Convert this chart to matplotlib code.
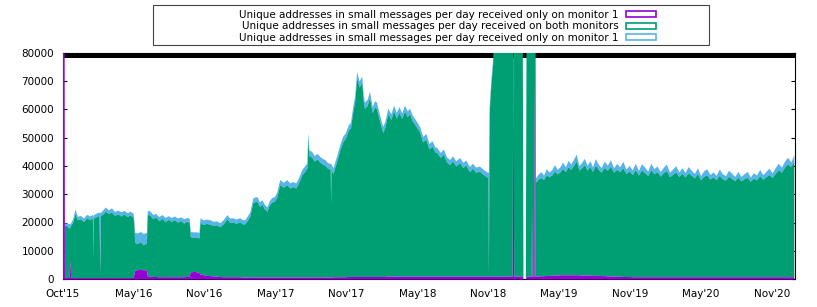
import numpy as np
import matplotlib
matplotlib.use('Agg')
import matplotlib.pyplot as plt
from matplotlib.patches import Patch, Rectangle

# days since the first sample (Oct'15)
day = [
  0, 4, 5, 10, 17, 19, 21, 26, 32, 38, 46, 54, 62, 70, 77, 78, 79, 86, 94, 96, 98,
  104, 110, 118, 126, 134, 142, 150, 158, 166, 174, 182, 186, 192, 200, 208, 216, 218, 224, 232, 240,
  248, 256, 264, 272, 280, 288, 296, 304, 312, 320, 326, 329, 336, 344, 351, 354, 362, 370, 379, 388,
  396, 405, 414, 423, 430, 438, 446, 456, 463, 469, 476, 482, 490, 500, 507, 513, 520, 526, 532, 538,
  545, 551, 559, 568, 577, 585, 592, 600, 605, 611, 616, 624, 629, 631, 634, 641, 648, 655, 662, 669,
  676, 682, 689, 690, 691, 696, 700, 707, 714, 721, 728, 735, 741, 747, 752, 757, 763, 770, 774, 777,
  784, 790, 797, 803, 808, 816, 824, 830, 837, 845, 852, 859, 866, 873, 880, 887, 893, 900, 911, 919,
  927, 935, 943, 951, 958, 963, 972, 980, 988, 996, 1004, 1012, 1022, 1030, 1038, 1047, 1055, 1063, 1073, 1081,
  1091, 1095, 1096, 1098, 1101, 1104, 1107, 1109, 1157, 1159, 1161, 1183, 1185, 1191, 1193, 1206, 1207, 1208, 1213, 1214,
  1216, 1217, 1224, 1231, 1238, 1245, 1252, 1259, 1266, 1273, 1280, 1287, 1294, 1301, 1308, 1315, 1322, 1329, 1336, 1343,
  1350, 1357, 1364, 1371, 1378, 1386, 1394, 1402, 1410, 1418, 1426, 1434, 1442, 1450, 1458, 1466, 1474, 1482, 1490, 1498,
  1506, 1514, 1522, 1530, 1538, 1546, 1554, 1562, 1570, 1578, 1586, 1594, 1602, 1610, 1618, 1626, 1634, 1642, 1650, 1658,
  1666, 1674, 1682, 1690, 1698, 1706, 1714, 1722, 1730, 1738, 1746, 1754, 1762, 1770, 1778, 1786, 1794, 1802, 1810, 1818,
  1826, 1834, 1842, 1850, 1858, 1866, 1874, 1882,
]

only_m1 = [
  95000, 95000, 700, 500, 600, 6500, 600, 500, 500, 500, 500, 500, 500, 500, 500, 500, 500, 500, 500, 500, 500,
  500, 500, 500, 500, 500, 500, 500, 500, 500, 500, 600, 3200, 3300, 3400, 3300, 3200, 1200, 1000, 900, 900,
  800, 800, 800, 800, 800, 800, 800, 800, 800, 900, 1000, 2500, 2700, 2600, 2300, 1800, 1500, 1300, 1200, 1100,
  1000, 900, 800, 800, 800, 800, 800, 800, 700, 700, 700, 700, 700, 700, 700, 700, 700, 700, 700, 700,
  700, 700, 700, 700, 700, 700, 700, 700, 700, 700, 700, 700, 700, 700, 700, 700, 700, 700, 700, 700,
  700, 700, 700, 700, 700, 800, 800, 800, 800, 800, 800, 900, 900, 900, 900, 900, 900, 900, 900, 900,
  900, 900, 900, 900, 900, 900, 900, 900, 1000, 1000, 1000, 1000, 1000, 1000, 1000, 1000, 1000, 1000, 1000, 1000,
  1000, 1000, 1000, 1000, 1000, 1000, 1000, 1000, 1000, 1000, 1000, 1000, 1000, 1000, 1000, 1000, 1000, 1000, 1000, 1000,
  1000, 1000, 1000, 1000, 1000, 1000, 1000, 1000, 1000, 95000, 1000, 1000, 0, 0, 1000, 1000, 26000, 1000, 1000, 72000,
  1000, 1000, 1100, 1100, 1200, 1200, 1300, 1300, 1400, 1400, 1500, 1500, 1500, 1500, 1500, 1500, 1500, 1500, 1400, 1400,
  1400, 1400, 1300, 1300, 1300, 1200, 1200, 1100, 1100, 1000, 1000, 1000, 900, 900, 900, 800, 800, 800, 800, 800,
  800, 800, 800, 800, 800, 800, 800, 800, 800, 800, 800, 800, 800, 800, 800, 800, 800, 800, 800, 800,
  800, 800, 800, 800, 800, 800, 800, 800, 800, 800, 800, 800, 800, 800, 800, 800, 800, 800, 800, 800,
  800, 800, 800, 800, 800, 800, 800, 800,
]

both = [
  0, 0, 18300, 18400, 17400, 11900, 18400, 19500, 22800, 20500, 20800, 19800, 21200, 20500, 21200, 6500, 21000, 21500, 22000, 1500, 22000,
  22500, 23500, 22700, 23200, 22000, 22600, 21800, 22500, 21600, 22200, 21200, 9800, 9200, 9800, 8800, 9600, 21500, 21800, 20500, 21000,
  19800, 20700, 19500, 20300, 19600, 20200, 19300, 19900, 19000, 19600, 19000, 12500, 12000, 12300, 12200, 18300, 17800, 18400, 18200, 17800,
  18200, 17600, 18800, 20500, 19300, 19400, 18900, 19400, 18800, 18800, 20200, 21600, 26500, 26800, 25000, 25800, 24000, 23300, 25400, 26500,
  26800, 28200, 32700, 31800, 32700, 31500, 32000, 31500, 32700, 34500, 36200, 37500, 38500, 49000, 43000, 42500, 41000, 41800, 40700, 40000,
  39500, 38500, 38200, 25600, 38000, 36500, 38400, 41500, 45000, 47700, 49000, 51600, 52600, 58200, 62000, 70400, 67000, 68700, 62000, 59500,
  60500, 63400, 58000, 60000, 59500, 55000, 51000, 53000, 57500, 55500, 58500, 56000, 58000, 55800, 58500, 56500, 57500, 55000, 52800, 51000,
  47500, 48500, 45000, 46000, 44000, 43800, 42000, 43200, 40500, 39500, 40800, 39000, 40200, 38500, 39300, 37000, 38200, 36800, 37200, 36200,
  35200, 35000, 0, 58000, 65000, 70600, 75000, 92000, 92000, 0, 92000, 92000, 0, 0, 92000, 92000, 67000, 92000, 92000, 21000,
  92000, 33300, 34200, 34800, 34000, 35600, 34900, 35500, 36800, 35800, 36400, 37600, 36500, 38200, 37300, 38700, 40300, 37000, 38000, 39000,
  37100, 38400, 36800, 39000, 37600, 36600, 38300, 37400, 38800, 36800, 37900, 37000, 38500, 36400, 37400, 36200, 37900, 36000, 37800, 36900,
  35800, 37900, 36500, 37200, 35600, 36800, 37600, 35400, 36300, 37100, 35500, 36600, 35300, 36800, 35900, 35000, 36500, 34300, 35600, 36000,
  34600, 35300, 34400, 35900, 34700, 34200, 35600, 34800, 34000, 35300, 33900, 34700, 35200, 33800, 34900, 34300, 35800, 34500, 35400, 36200,
  35100, 36600, 37900, 37000, 38800, 40000, 38900, 40900,
]

only_other = [
  0, 0, 900, 900, 1600, 1200, 1000, 1200, 1500, 1200, 1200, 1300, 1200, 1300, 1200, 15000, 1200, 1300, 1200, 21500, 1200,
  1500, 1500, 1300, 1500, 1400, 1300, 1500, 1300, 1400, 1300, 1400, 3500, 3800, 3600, 4000, 3700, 1500, 1400, 1500, 1300,
  1500, 1300, 1500, 1300, 1400, 1300, 1500, 1300, 1500, 1300, 1500, 1800, 2000, 1800, 2000, 1600, 1600, 1500, 1600, 1500,
  1400, 1400, 1500, 1500, 1500, 1500, 1500, 1500, 1500, 1500, 1500, 1500, 1600, 1700, 1600, 1600, 1600, 1600, 1600, 1600,
  1700, 1700, 1800, 1700, 1800, 1800, 1800, 1800, 1800, 1900, 1900, 2000, 2000, 2200, 2000, 2000, 2000, 2000, 2000, 2000,
  2000, 2000, 2000, 14600, 2000, 2000, 2000, 2000, 2000, 2000, 2000, 2000, 2000, 2100, 2200, 2300, 2200, 2200, 2200, 2200,
  2200, 2200, 2200, 2200, 2200, 2100, 2100, 2100, 2000, 2000, 2000, 2000, 2000, 2000, 2000, 2000, 2000, 2000, 2000, 2000,
  2000, 2000, 2000, 2000, 1800, 1800, 1800, 1800, 1800, 1800, 1800, 1800, 1800, 1800, 1800, 1800, 1800, 1800, 1800, 1800,
  1800, 1800, 36800, 2000, 2000, 2000, 2000, 2000, 2000, 0, 2000, 2000, 0, 0, 2000, 2000, 2000, 2000, 2000, 2000,
  2000, 1500, 1800, 2100, 1600, 2200, 1700, 1900, 2300, 1600, 1800, 2300, 1700, 2300, 1900, 2200, 2400, 1600, 1900, 2300,
  1700, 2100, 1600, 2300, 1900, 1600, 2200, 1800, 2300, 1600, 2000, 1700, 2300, 1600, 1900, 1600, 2300, 1600, 2200, 1900,
  1600, 2300, 1800, 2000, 1600, 1900, 2300, 1600, 1800, 2200, 1600, 2000, 1600, 2200, 1800, 1600, 2100, 1500, 1900, 2200,
  1600, 1800, 1500, 2200, 1800, 1600, 2100, 1800, 1500, 2000, 1600, 1800, 2100, 1500, 1900, 1700, 2200, 1600, 1900, 2200,
  1700, 2000, 2300, 1800, 2100, 2300, 1700, 2300,
]

month_labels = ["Oct'15", "May'16", "Nov'16", "May'17", "Nov'17", "May'18",
                "Nov'18", "May'19", "Nov'19", "May'20", "Nov'20"]
y_ticks = [0, 10000, 20000, 30000, 40000, 50000, 60000, 70000, 80000]
series_labels = [
  'Unique addresses in small messages per day received only on monitor 1',
  'Unique addresses in small messages per day received on both monitors',
  'Unique addresses in small messages per day received only on monitor 1',
]
colors = ['#9400d3', '#009e73', '#56b4e9']

TICK_STEP = 182.6   # days between x labels
X_END = 1885
Y_MAX = 80000
BAND_LOW = 78200


def main():
  plt.rcParams['font.family'] = 'DejaVu Sans'
  plt.rcParams['font.size'] = 7.5
  W, H = 817, 307
  fig = plt.figure(figsize=(W / 100, H / 100), dpi=100)
  ax = fig.add_axes([62.5 / W, 1 - 279 / H, (795 - 62.5) / W, (279 - 53) / H])

  x = np.array(day)
  p = np.array(only_m1)
  b = np.array(both)
  o = np.array(only_other)

  ax.axhspan(BAND_LOW, Y_MAX, color='black', lw=0, zorder=0.5)
  ax.fill_between(x, p + b, p + b + o, color=colors[2], lw=0, zorder=3)
  ax.fill_between(x, p, p + b, color=colors[1], lw=0, zorder=3)
  ax.fill_between(x, 0, p, color=colors[0], lw=0, zorder=3)

  ax.set_xlim(0, X_END)
  ax.set_ylim(0, Y_MAX)
  ax.set_xticks([i * TICK_STEP for i in range(len(month_labels))])
  ax.set_xticklabels(month_labels)
  ax.set_yticks(y_ticks)
  ax.tick_params(axis='x', length=0, pad=7)
  ax.tick_params(axis='y', direction='in', length=3, width=0.8, right=True, pad=6)
  for s in ax.spines.values():
    s.set_linewidth(0.8)

  handles = [Patch(facecolor='none', edgecolor=c, linewidth=1.2) for c in colors]
  fig.legend(handles, series_labels, loc='upper right', frameon=False,
             bbox_to_anchor=(661 / W, 1 - 4.5 / H), borderpad=0, markerfirst=False,
             handlelength=2.9, handleheight=0.5, handletextpad=0.7, labelspacing=0.15,
             fontsize=7.5)
  fig.patches.append(Rectangle((153 / W, 1 - 45 / H), (709 - 153) / W, 40 / H,
                               transform=fig.transFigure, fill=False,
                               edgecolor='#444444', linewidth=0.8))

  fig.savefig('out.png', dpi=100)


if __name__ == "__main__":
  main()
